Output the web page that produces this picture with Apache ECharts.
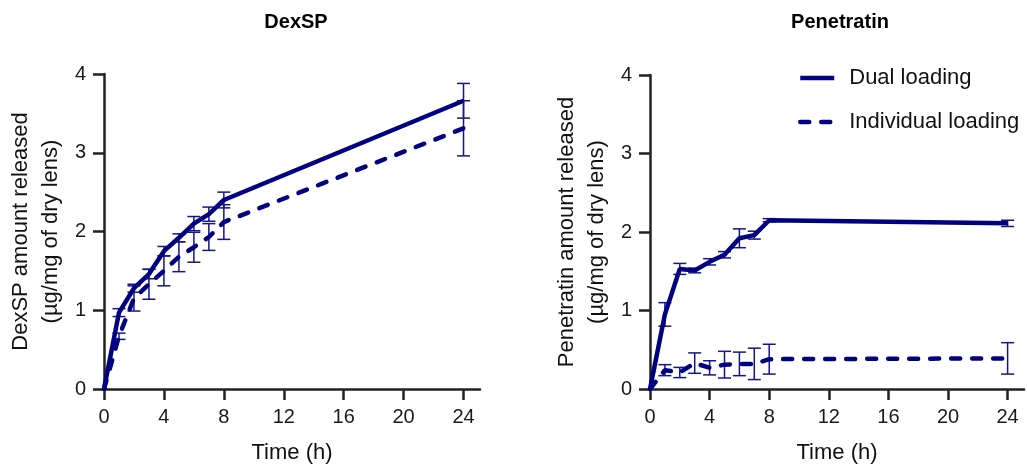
<!DOCTYPE html>
<html>
<head>
<meta charset="utf-8">
<title>DexSP / Penetratin release</title>
<script src="https://cdn.jsdelivr.net/npm/echarts@6/dist/echarts.min.js"></script>
<style>
  html, body { margin: 0; padding: 0; background: #fff; }
  #chart { width: 1027px; height: 469px; }
</style>
</head>
<body>
<div id="chart"></div>
<script>
// sampling times (h)
const times = [0, 1, 2, 3, 4, 5, 6, 7, 8, 24]
const xTicks = [0, 4, 8, 12, 16, 20, 24]
const yTicks = [0, 1, 2, 3, 4]

// DexSP released (ug/mg of dry lens), mean and error
const dexDual = [0, 0.97, 1.28, 1.46, 1.75, 1.92, 2.10, 2.22, 2.40, 3.66]
const dexDualErr = [0, 0.05, 0.05, 0.06, 0.06, 0.05, 0.09, 0.09, 0.10, 0.22]
const dexIndiv = [0, 0.67, 1.15, 1.33, 1.50, 1.68, 1.80, 1.93, 2.12, 3.31]
const dexIndivErr = [0, 0.04, 0.16, 0.19, 0.19, 0.19, 0.19, 0.17, 0.22, 0.35]

// Penetratin released (ug/mg of dry lens), mean and error
const penDual = [0, 0.95, 1.53, 1.51, 1.62, 1.71, 1.92, 1.96, 2.15, 2.11]
const penDualErr = [0, 0.15, 0.07, 0.03, 0.04, 0.04, 0.12, 0.05, 0.02, 0.04]
const penIndiv = [0, 0.24, 0.21, 0.33, 0.27, 0.31, 0.32, 0.32, 0.38, 0.39]
const penIndivErr = [0, 0.07, 0.065, 0.13, 0.09, 0.17, 0.15, 0.20, 0.19, 0.20]

const navy = '#000080'
const font = "'Liberation Sans', Arial, sans-serif"
const axisColor = '#222'

const pairs = (ys) => times.map((t, i) => [t, ys[i]])
const errRows = (ys, es) => times
  .map((t, i) => [t, ys[i] - es[i], ys[i] + es[i]])
  .filter((r, i) => i > 0)

const renderErr = (params, api) => {
  const x = api.value(0)
  const lo = api.coord([x, api.value(1)])
  const hi = api.coord([x, api.value(2)])
  const w = 6.5
  const style = { stroke: '#14148c', lineWidth: 1.5 }
  return {
    type: 'group',
    children: [
      { type: 'line', shape: { x1: hi[0], y1: hi[1], x2: lo[0], y2: lo[1] }, style },
      { type: 'line', shape: { x1: hi[0] - w, y1: hi[1], x2: hi[0] + w, y2: hi[1] }, style },
      { type: 'line', shape: { x1: lo[0] - w, y1: lo[1], x2: lo[0] + w, y2: lo[1] }, style }
    ]
  }
}

const xAxis = (idx) => ({
  type: 'value',
  gridIndex: idx,
  min: 0,
  max: 25.1,
  interval: 4,
  name: 'Time (h)',
  nameLocation: 'middle',
  nameGap: 53,
  nameTextStyle: { fontFamily: font, fontSize: 22, color: '#111' },
  axisLine: { onZero: false, lineStyle: { color: axisColor, width: 2.5 } },
  axisTick: { length: 11, lineStyle: { color: axisColor, width: 2.5 }, customValues: xTicks },
  axisLabel: { margin: 18, fontFamily: font, fontSize: 20, color: '#1a1a1a', customValues: xTicks },
  splitLine: { show: false }
})

const yAxis = (idx, label) => ({
  type: 'value',
  gridIndex: idx,
  min: 0,
  max: 4,
  interval: 1,
  name: label + ' amount released\n(\u00b5g/mg of dry lens)',
  nameLocation: 'middle',
  nameGap: 38,
  nameTextStyle: { fontFamily: font, fontSize: 22, lineHeight: 30, color: '#111' },
  axisLine: { show: true, onZero: false, lineStyle: { color: axisColor, width: 2.5 } },
  axisTick: { show: true, length: 11, lineStyle: { color: axisColor, width: 2.5 } },
  axisLabel: { margin: 18, fontFamily: font, fontSize: 20, color: '#1a1a1a' },
  splitLine: { show: false }
})

const lineSeries = (name, idx, ys, dashed) => ({
  name,
  type: 'line',
  xAxisIndex: idx,
  yAxisIndex: idx,
  data: pairs(ys),
  symbol: 'none',
  z: 3,
  lineStyle: {
    color: navy,
    width: 4.5,
    type: dashed ? [9, 12] : 'solid',
    cap: dashed ? 'round' : 'butt'
  },
  itemStyle: { color: navy }
})

const errSeries = (idx, ys, es) => ({
  type: 'custom',
  xAxisIndex: idx,
  yAxisIndex: idx,
  data: errRows(ys, es),
  encode: { x: 0, y: [1, 2] },
  renderItem: renderErr,
  z: 2,
  silent: true
})

const chart = echarts.init(document.getElementById('chart'))

const option = {
  backgroundColor: '#fff',
  animation: false,
  title: [
    { text: 'DexSP', left: 296, top: 12, textAlign: 'center', padding: 0,
      textStyle: { fontFamily: font, fontSize: 20, fontWeight: 'bold', color: '#000' } },
    { text: 'Penetratin', left: 840, top: 12, textAlign: 'center', padding: 0,
      textStyle: { fontFamily: font, fontSize: 20, fontWeight: 'bold', color: '#000' } }
  ],
  legend: {
    orient: 'vertical',
    left: 793,
    top: 62,
    itemGap: 22,
    itemWidth: 34,
    itemHeight: 14,
    itemStyle: { opacity: 0 },
    lineStyle: { width: 4.5 },
    data: ['Dual loading', 'Individual loading'],
    textStyle: { fontFamily: font, fontSize: 22, color: '#111', padding: [0, 0, 0, 10] }
  },
  grid: [
    { left: 104, top: 74, width: 376, height: 317 },
    { left: 650, top: 75, width: 374, height: 316 }
  ],
  xAxis: [xAxis(0), xAxis(1)],
  yAxis: [yAxis(0, 'DexSP'), yAxis(1, 'Penetratin')],
  series: [
    errSeries(0, dexDual, dexDualErr),
    errSeries(0, dexIndiv, dexIndivErr),
    lineSeries('Dual loading', 0, dexDual, false),
    lineSeries('Individual loading', 0, dexIndiv, true),
    errSeries(1, penDual, penDualErr),
    errSeries(1, penIndiv, penIndivErr),
    lineSeries('Dual loading', 1, penDual, false),
    lineSeries('Individual loading', 1, penIndiv, true)
  ]
}

option && chart.setOption(option)

window.addEventListener('resize', function () {
  chart.resize()
})
</script>
</body>
</html>
